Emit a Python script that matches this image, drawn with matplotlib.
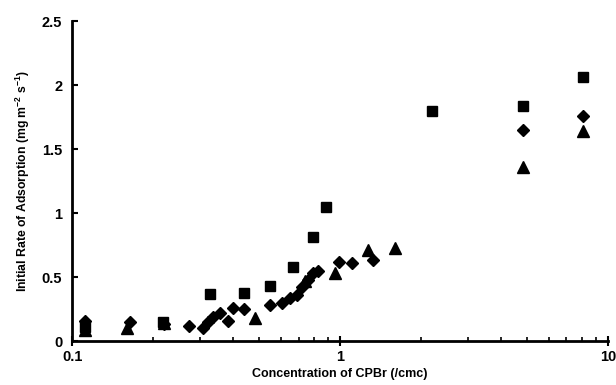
import matplotlib
matplotlib.use("Agg")
import matplotlib.pyplot as plt
from matplotlib.ticker import FuncFormatter, LogLocator, FixedLocator

plt.rcParams['font.family'] = ['Liberation Sans', 'DejaVu Sans']
plt.rcParams['font.weight'] = 'bold'
plt.rcParams['mathtext.fontset'] = 'custom'
plt.rcParams['mathtext.rm'] = 'Liberation Sans:bold'
plt.rcParams['mathtext.bf'] = 'Liberation Sans:bold'
plt.rcParams['mathtext.it'] = 'Liberation Sans:bold'

# Squares
sq_x = [0.112, 0.219, 0.327, 0.438, 0.548, 0.668, 0.793, 0.887, 2.20, 4.82, 8.07]
sq_y = [0.11, 0.15, 0.37, 0.375, 0.43, 0.58, 0.81, 1.05, 1.80, 1.84, 2.06]

# Diamonds
di_x = [0.112, 0.165, 0.22, 0.273, 0.308, 0.322, 0.336, 0.357, 0.382, 0.399, 0.438,
        0.548, 0.608, 0.651, 0.691, 0.722, 0.760, 0.793, 0.828, 0.99, 1.11, 1.33,
        4.82, 8.07]
di_y = [0.16, 0.15, 0.13, 0.117, 0.10, 0.15, 0.19, 0.22, 0.16, 0.26, 0.25,
        0.28, 0.30, 0.34, 0.36, 0.42, 0.48, 0.53, 0.55, 0.62, 0.61, 0.63,
        1.65, 1.76]

# Triangles
tr_x = [0.112, 0.160, 0.22, 0.482, 0.74, 0.958, 1.27, 1.60, 4.82, 8.07]
tr_y = [0.09, 0.10, 0.14, 0.18, 0.47, 0.53, 0.71, 0.73, 1.36, 1.64]

x_ticks = [0.1, 1, 10]
y_ticks = [0, 0.5, 1, 1.5, 2, 2.5]

fig = plt.figure(figsize=(6.16, 3.85), dpi=100)
ax = fig.add_axes([0.117, 0.114, 0.870, 0.831])

ax.plot(tr_x, tr_y, linestyle='none', marker='^', color='black', markersize=8.5)
ax.plot(di_x, di_y, linestyle='none', marker='D', color='black', markersize=6)
ax.plot(sq_x, sq_y, linestyle='none', marker='s', color='black', markersize=7.5)

ax.set_xscale('log')
ax.set_xlim(0.1, 10)
ax.set_ylim(0, 2.5)
ax.xaxis.set_major_locator(FixedLocator(x_ticks))
ax.xaxis.set_minor_locator(LogLocator(base=10, subs=range(2, 10)))
ax.yaxis.set_major_locator(FixedLocator(y_ticks))
fmt = FuncFormatter(lambda v, p: '%g' % v)
ax.xaxis.set_major_formatter(fmt)
ax.yaxis.set_major_formatter(fmt)

for s in ['top', 'right']:
    ax.spines[s].set_visible(False)
for s in ['left', 'bottom']:
    ax.spines[s].set_linewidth(2)

ax.tick_params(axis='y', direction='in', length=4, width=1.5, labelsize=10.5, pad=7)
ax.tick_params(axis='x', which='major', direction='inout', length=7, width=1.5, labelsize=10.5, pad=3)
ax.tick_params(axis='x', which='minor', direction='in', length=3, width=1.2)
for lbl in ax.get_xticklabels() + ax.get_yticklabels():
    lbl.set_fontweight('bold')

ax.set_xlabel('Concentration of CPBr (/cmc)', fontsize=9, fontweight='bold', labelpad=3)
ax.set_ylabel(r'Initial Rate of Adsorption (mg m$^{-2}$ s$^{-1}$)', fontsize=8.8, fontweight='bold', labelpad=7)

fig.savefig('out.png', dpi=100)
